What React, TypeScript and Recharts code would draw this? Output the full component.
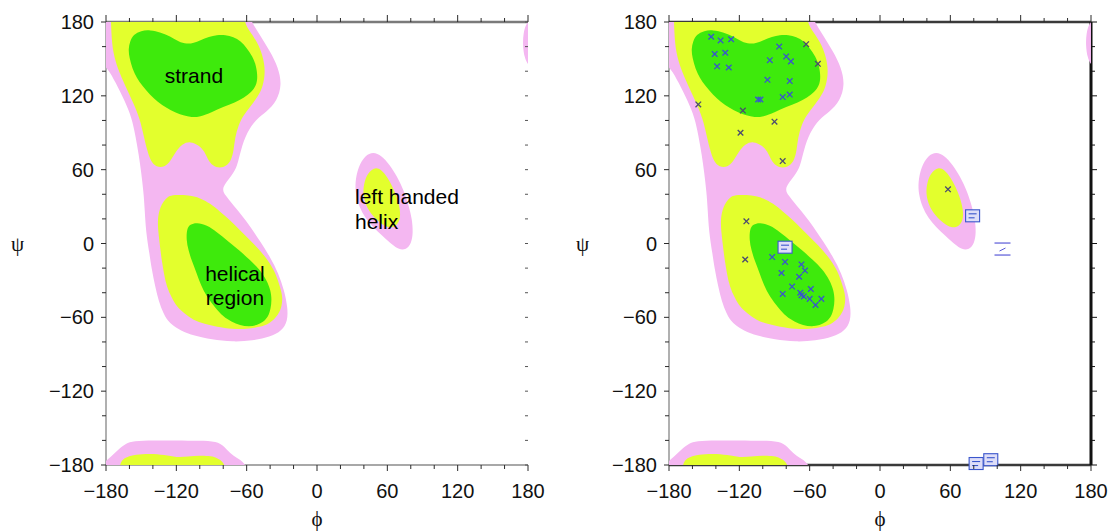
import React from "react";
import { ScatterChart, Scatter, XAxis, YAxis } from "recharts";

type Pt = [number, number];

// region outlines, [phi, psi] in degrees (points past ±180 get clipped at the frame)
const PINK_MAIN: Pt[] = [
  [-200, 200], [-100, 200], [-62, 200], [-58, 183], [-49, 170], [-40, 156], [-33, 143], [-30, 129],
  [-34, 116], [-43, 107], [-52, 101], [-60, 90], [-65, 76], [-68, 63], [-72, 56], [-82, 45],
  [-78, 39], [-73, 33], [-65, 24], [-57, 14], [-48, 1], [-40, -11], [-33, -24], [-28, -38],
  [-25, -52], [-25, -63], [-30, -71], [-40, -76], [-55, -79], [-72, -80], [-90, -78], [-105, -75],
  [-116, -71], [-126, -65], [-131, -57], [-135, -47], [-138, -35], [-141, -21], [-143, -8], [-146, 10],
  [-147, 28], [-148, 42], [-150, 58], [-152, 72], [-155, 88], [-158, 102], [-164, 116], [-172, 131],
  [-178, 142], [-188, 150], [-200, 160],
];
const YELLOW_STRAND: Pt[] = [
  [-176, 200], [-120, 200], [-66, 200], [-62, 180], [-58, 173], [-51, 164], [-46, 152], [-44, 140],
  [-46, 128], [-50, 120], [-57, 111], [-63, 104], [-67, 96], [-70, 86], [-71, 76], [-73, 68],
  [-77, 63], [-83, 61], [-89, 63], [-93, 68], [-96, 75], [-101, 80], [-108, 83], [-115, 81],
  [-121, 74], [-125, 67], [-130, 62], [-137, 62], [-142, 67], [-145, 76], [-148, 88], [-151, 101],
  [-157, 115], [-164, 129], [-170, 142], [-174, 155], [-175.5, 170], [-176, 190],
];
const GREEN_STRAND: Pt[] = [
  [-159.5, 164.3], [-156.7, 169.7], [-150, 173], [-142.5, 173.5], [-133, 171.5], [-125.4, 168.4],
  [-118, 164], [-111.2, 162], [-105, 163], [-99.8, 165], [-92, 168], [-85.6, 169.5], [-78, 169.5],
  [-71.4, 168], [-65, 164.5], [-60, 159], [-55, 152], [-52, 145], [-50.5, 135], [-52, 128],
  [-56, 123], [-62, 118.5], [-70, 114.5], [-80, 111], [-90, 106.5], [-99.8, 103], [-107, 102.5],
  [-114, 104], [-121, 106.5], [-128.2, 110], [-136, 115], [-142.5, 121], [-149, 128],
  [-153.8, 134.5], [-157.5, 142], [-160, 150.7], [-161, 158],
];
const YELLOW_HELIX: Pt[] = [
  [-128, 38.5], [-134, 30], [-136, 20], [-135.5, 10], [-134, -2], [-132.5, -13.4], [-130.5, -25],
  [-128.2, -35.1], [-124, -44], [-119.7, -51.3], [-113, -57], [-105.5, -62.2], [-96, -65.5],
  [-85.6, -67.6], [-72, -69.5], [-60, -69.5], [-49, -68], [-40.1, -65], [-33, -58], [-30, -51.3],
  [-29.3, -43], [-31.6, -35.1], [-35, -25], [-40.1, -16.1], [-48, -6], [-57.2, 2.8], [-66, 11],
  [-74.2, 19.1], [-83, 26], [-91.3, 32.7], [-99, 36.5], [-105.5, 38.5], [-114, 39.5], [-121, 39.5],
];
const GREEN_HELIX: Pt[] = [
  [-111, 12], [-108.3, 15.5], [-102.6, 17], [-94.1, 15], [-85, 9], [-77, 2.8], [-67, -5],
  [-57.2, -13.4], [-49, -21], [-43, -29.7], [-39.5, -38], [-38.6, -45.9], [-39.5, -53],
  [-41.5, -59.5], [-46, -64], [-51.4, -66.5], [-58, -67.5], [-65.7, -66.5], [-73, -63.5],
  [-79.9, -59.5], [-87, -52], [-94.1, -43.2], [-99, -34], [-102.6, -24.2], [-106.5, -15],
  [-109.8, -5.3], [-111.5, 3],
];
const PINK_LH: Pt[] = [
  [48, 74.5], [41, 71.5], [35, 62], [32.5, 50], [33, 40], [36, 30], [41, 21], [48, 13], [56, 6],
  [64, -1], [70, -5], [76, -5], [80.5, 0], [82, 9], [81, 20], [78.5, 30], [74.5, 42], [68.5, 54.3],
  [62, 64], [55, 71.5],
];
const YELLOW_LH: Pt[] = [
  [49.5, 62], [44, 58], [40.5, 51], [39, 41], [41.5, 31], [47, 23], [54, 16.5], [61, 12.5],
  [67, 13.5], [71, 19], [71, 27], [68.5, 37], [64.5, 46], [60, 54], [55, 60],
];
const PINK_BOTTOM: Pt[] = [
  [-190, -190], [-182, -178], [-176, -173.5], [-169.5, -167.5], [-163, -162.5], [-156.7, -160.5],
  [-140, -160], [-120, -160], [-100, -160.3], [-85.6, -160.7], [-79, -165], [-74.2, -170.5],
  [-68, -174.5], [-62.9, -177.3], [-58, -185], [-60, -200], [-190, -200],
];
const YELLOW_BOTTOM: Pt[] = [
  [-170, -190], [-168, -178], [-165, -175], [-162.3, -173.5], [-155, -171.5], [-142.5, -170.7],
  [-130, -171.7], [-119.7, -174], [-110, -173.2], [-99.8, -172.3], [-90, -172.8], [-85.6, -174.2],
  [-80, -177], [-77, -185], [-80, -200], [-165, -200],
];
const PINK_EDGE: Pt[] = [
  [184, 184], [178.5, 179], [176, 171], [175.5, 161], [177, 151], [180, 145], [185, 142], [190, 160],
];

// residues plotted in the right-hand panel
const RES_FAVOURED: Pt[] = [
  [-144, 168], [-136, 165], [-127, 166], [-141, 154], [-132, 155], [-139, 144], [-129, 143],
  [-86, 160], [-94, 149], [-80, 152], [-76, 148], [-96, 133], [-77, 132], [-104, 117], [-102, 117],
  [-83, 119], [-77, 121], [-92, -11], [-81, -15], [-67, -17], [-64, -22], [-84, -24], [-69, -27],
  [-75, -35], [-83, -41], [-67, -42], [-68, -40], [-65, -43], [-59, -37], [-60, -45], [-55, -50],
  [-50, -45],
];
const RES_ALLOWED: Pt[] = [
  [-63, 162], [-53, 146], [-117, 108], [-155, 113], [-90, 99], [-119, 90], [-83, 67], [58, 44],
  [-114, 18], [-115, -13],
];
const RES_BOXED: Pt[] = [[-81, -3], [79, 22.5], [82, -178.8], [94.5, -175.7]];
const RES_BARRED: Pt[] = [[104.5, -4.5]];

const ANGLE_TICKS = [-180, -160, -140, -120, -100, -80, -60, -40, -20, 0, 20, 40, 60, 80, 100, 120, 140, 160, 180];
const LABELLED_TICKS = [-180, -120, -60, 0, 60, 120, 180];
const FRAME: Pt[] = [[-180, -180], [180, 180]];

const NOTES = [
  { phi: -105, psi: 130.4, lines: ["strand"], anchor: "middle" },
  { phi: 32.4, psi: 31.9, lines: ["left handed", "helix"], anchor: "start" },
  { phi: -70, psi: -30.2, lines: ["helical", "region"], anchor: "middle" },
];

const PINK = "#f4b7f1";
const YELLOW = "#e3ff2d";
const GREEN = "#3eea0c";
const MARK = "#3a56cc";
const SANS = '"Liberation Sans", Arial, Helvetica, sans-serif';
const SERIF = '"Liberation Serif", "DejaVu Serif", serif';

const REGIONS = [
  { pts: PINK_MAIN, color: PINK },
  { pts: PINK_LH, color: PINK },
  { pts: PINK_BOTTOM, color: PINK },
  { pts: PINK_EDGE, color: PINK },
  { pts: YELLOW_STRAND, color: YELLOW },
  { pts: YELLOW_HELIX, color: YELLOW },
  { pts: YELLOW_LH, color: YELLOW },
  { pts: YELLOW_BOTTOM, color: YELLOW },
  { pts: GREEN_STRAND, color: GREEN },
  { pts: GREEN_HELIX, color: GREEN },
];

const rows = (pts: Pt[]) => pts.map(([phi, psi]) => ({ phi, psi }));
const fmt = (v: number) => (v < 0 ? `\u2212${Math.abs(v)}` : String(v));
const Empty = () => <g />;

type TickOpts = {
  side: "bottom" | "top" | "left" | "right";
  stroke: string;
  major: number;
  minor: number;
  labels?: boolean;
};

function angleTick(o: TickOpts) {
  return (p: any) => {
    const { x, y, payload } = p;
    const v = payload.value;
    const isMajor = LABELLED_TICKS.includes(v);
    const len = isMajor ? o.major : o.minor;
    const show = o.labels && isMajor;
    const txt = { fontFamily: SANS, fontSize: 20, fill: "#111" };
    if (o.side === "bottom") {
      return (
        <g>
          <line x1={x} y1={y} x2={x} y2={y + len} stroke={o.stroke} />
          {show && <text x={x} y={y + 33} textAnchor="middle" {...txt}>{fmt(v)}</text>}
        </g>
      );
    }
    if (o.side === "top") return <line x1={x} y1={y} x2={x} y2={y - len} stroke={o.stroke} />;
    if (o.side === "right") return <line x1={x} y1={y} x2={x + len} y2={y} stroke={o.stroke} />;
    return (
      <g>
        <line x1={x} y1={y} x2={x - len} y2={y} stroke={o.stroke} />
        {show && <text x={x - 12} y={y + 7} textAnchor="end" {...txt}>{fmt(v)}</text>}
      </g>
    );
  };
}

const cross = (color: string) => (p: any) => {
  const { cx, cy } = p;
  const r = 2.8;
  return (
    <g stroke={color} strokeWidth={1.3}>
      <line x1={cx - r} y1={cy - r} x2={cx + r} y2={cy + r} />
      <line x1={cx - r} y1={cy + r} x2={cx + r} y2={cy - r} />
    </g>
  );
};

const BoxMark = (p: any) => {
  const { cx, cy } = p;
  return (
    <g stroke={MARK} strokeWidth={1.1}>
      <rect x={cx - 7} y={cy - 6} width={14} height={12} fill="#dedef8" />
      <line x1={cx - 4} y1={cy - 2} x2={cx + 4} y2={cy - 2} />
      <line x1={cx - 4} y1={cy + 2} x2={cx + 2} y2={cy + 2} />
    </g>
  );
};

const BarMark = (p: any) => {
  const { cx, cy } = p;
  return (
    <g stroke="#5a5ad8" strokeWidth={1.2}>
      <line x1={cx - 8} y1={cy - 6} x2={cx + 8} y2={cy - 6} />
      <line x1={cx - 8} y1={cy + 6} x2={cx + 8} y2={cy + 6} />
      <line x1={cx - 3} y1={cy + 2} x2={cx + 3} y2={cy - 1} strokeWidth={1} />
    </g>
  );
};

const NoteText = (p: any) => {
  const { cx, cy, payload } = p;
  return (
    <text x={cx} y={cy} textAnchor={payload.anchor} fontFamily={SANS} fontSize={21} fill="#000">
      {payload.lines.map((l: string, i: number) => (
        <tspan key={i} x={cx} dy={i === 0 ? 0 : 24.5}>{l}</tspan>
      ))}
    </text>
  );
};

type PanelProps = {
  left: number;
  width: number;
  yWidth: number;
  right: number;
  psiOffset: number;
  framed: boolean;
  notes: boolean;
  residues: boolean;
};

function Panel({ left, width, yWidth, right, psiOffset, framed, notes, residues }: PanelProps) {
  const topEdge = framed ? "#3a3a3a" : "#7a7a7a";
  const bottomEdge = framed ? "#3a3a3a" : "#a8a8a8";
  return (
    <div style={{ position: "absolute", left, top: 0 }}>
      <ScatterChart width={width} height={532} margin={{ top: 0, right: 0, bottom: 0, left: 0 }}>
        {REGIONS.map((r, i) => (
          <Scatter
            key={i}
            xAxisId="p"
            yAxisId="p"
            data={rows(r.pts)}
            line={{ fill: r.color, stroke: "none" }}
            lineType="joint"
            lineJointType="basisClosed"
            shape={Empty}
            isAnimationActive={false}
          />
        ))}
        <Scatter xAxisId="t" yAxisId="r" data={rows(FRAME)} shape={Empty} isAnimationActive={false} />

        <XAxis
          xAxisId="p"
          type="number"
          dataKey="phi"
          domain={[-180, 180]}
          allowDataOverflow
          ticks={ANGLE_TICKS}
          interval={0}
          tickSize={0}
          tickMargin={0}
          tickLine={false}
          height={67}
          axisLine={{ stroke: bottomEdge, strokeWidth: framed ? 2.4 : 1.8 }}
          tick={angleTick({ side: "bottom", stroke: "#2a2a2a", major: 6, minor: 4, labels: true })}
          label={{ value: "\u03d5", position: "insideBottom", offset: 6, fontSize: 21, fontFamily: SERIF, fill: "#111" }}
        />
        <XAxis
          xAxisId="t"
          orientation="top"
          type="number"
          dataKey="phi"
          domain={[-180, 180]}
          allowDataOverflow
          ticks={ANGLE_TICKS}
          interval={0}
          tickSize={0}
          tickMargin={0}
          tickLine={false}
          height={22}
          axisLine={{ stroke: topEdge, strokeWidth: 2.4 }}
          tick={angleTick({ side: "top", stroke: "#2a2a2a", major: 7, minor: 4 })}
        />
        <YAxis
          yAxisId="p"
          type="number"
          dataKey="psi"
          domain={[-180, 180]}
          allowDataOverflow
          ticks={ANGLE_TICKS}
          interval={0}
          tickSize={0}
          tickMargin={0}
          tickLine={false}
          width={yWidth}
          axisLine={{ stroke: "#a8a8a8", strokeWidth: 1.8 }}
          tick={angleTick({ side: "left", stroke: "#2a2a2a", major: 5, minor: 4, labels: true })}
          label={{ value: "\u03c8", position: "insideLeft", offset: psiOffset, fontSize: 21, fontFamily: SERIF, fill: "#111" }}
        />
        <YAxis
          yAxisId="r"
          orientation="right"
          type="number"
          dataKey="psi"
          domain={[-180, 180]}
          allowDataOverflow
          ticks={ANGLE_TICKS}
          interval={0}
          tickSize={0}
          tickMargin={0}
          tickLine={false}
          width={right}
          axisLine={framed ? { stroke: "#111", strokeWidth: 3 } : false}
          tick={
            framed
              ? angleTick({ side: "right", stroke: "#111", major: 6, minor: 4 })
              : angleTick({ side: "right", stroke: "#555", major: -3, minor: -3 })
          }
        />
        <XAxis xAxisId="m" orientation="top" type="number" dataKey="phi" domain={[-180, 180]} height={0} hide />
        <YAxis yAxisId="m" orientation="right" type="number" dataKey="psi" domain={[-180, 180]} width={0} hide />

        {notes && (
          <Scatter xAxisId="m" yAxisId="m" data={NOTES} shape={NoteText} isAnimationActive={false} />
        )}
        {residues && (
          <Scatter xAxisId="m" yAxisId="m" data={rows(RES_ALLOWED)} shape={cross("#4b4b70")} isAnimationActive={false} />
        )}
        {residues && (
          <Scatter xAxisId="m" yAxisId="m" data={rows(RES_FAVOURED)} shape={cross(MARK)} isAnimationActive={false} />
        )}
        {residues && (
          <Scatter xAxisId="m" yAxisId="m" data={rows(RES_BOXED)} shape={BoxMark} isAnimationActive={false} />
        )}
        {residues && (
          <Scatter xAxisId="m" yAxisId="m" data={rows(RES_BARRED)} shape={BarMark} isAnimationActive={false} />
        )}
      </ScatterChart>
    </div>
  );
}

export default function App() {
  return (
    <div style={{ position: "absolute", left: 0, top: 0, width: 1111, height: 532, background: "#fff" }}>
      <Panel left={0} width={555} yWidth={106} right={27} psiOffset={11} framed={false} notes residues={false} />
      <Panel left={555} width={556} yWidth={114} right={20} psiOffset={21} framed notes={false} residues />
    </div>
  );
}
